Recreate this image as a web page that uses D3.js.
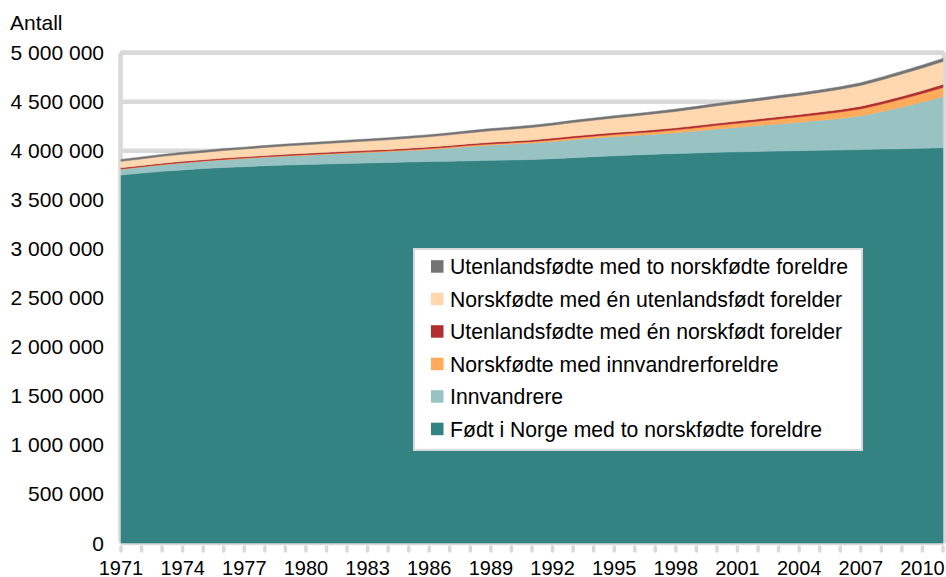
<!DOCTYPE html>
<html>
<head>
<meta charset="utf-8">
<script src="https://cdn.jsdelivr.net/npm/d3@7"></script>
<style>
  html, body { margin: 0; padding: 0; background: #fff; }
  svg { display: block; font-family: "Liberation Sans", Arial, sans-serif; }
</style>
</head>
<body>
<svg id="chart" width="946" height="577"></svg>
<script>
// values in thousands of persons, 1 January each year
var years = d3.range(1971, 2012);
var tickYears = d3.range(1971, 2011, 3);

var fodtNorge = [3752,3772,3790,3805,3818,3829,3838,3847,3854,3860,3866,3871,3876,3881,3886,3890,3894,3898,3902,3906,3911,3919,3929,3939,3949,3957,3965,3972,3978,3984,3989,3993,3997,4001,4005,4008,4012,4017,4021,4026,4031];
var innvandrere = [61,64,68,72,76,80,84,88,92,95,99,103,107,111,116,124,134,146,156,162,168,176,184,190,195,199,204,212,224,238,250,264,277,290,305,322,345,381,425,470,520];
var norskfInnvForeldre = [1,1,2,2,2,3,3,4,4,5,5,6,6,7,8,9,10,11,12,13,14,16,18,20,22,24,26,29,33,37,41,45,50,55,60,65,70,76,82,88,95];
var utlEnNorskf = [13,13,13,13,13,13,13,13,14,14,14,15,15,15,16,16,16,17,17,17,18,18,19,19,20,20,21,21,22,22,23,23,24,24,25,26,27,28,29,30,31];
var norskfEnUtl = [65,67,70,72,74,77,79,82,84,87,89,92,95,98,101,104,108,112,117,122,127,132,137,143,149,155,161,167,172,177,182,186,190,194,199,205,212,219,225,229,233];
var utlToNorskf = [20,20,20,20,20,20,20,20,20,20,21,21,21,21,21,21,21,22,22,22,22,22,23,23,23,23,24,24,24,24,25,25,25,26,26,27,28,29,30,31,32];

var seriesNames = [
  "Født i Norge med to norskfødte foreldre",
  "Innvandrere",
  "Norskfødte med innvandrerforeldre",
  "Utenlandsfødte med én norskfødt forelder",
  "Norskfødte med én utenlandsfødt forelder",
  "Utenlandsfødte med to norskfødte foreldre"
];
var seriesValues = [fodtNorge, innvandrere, norskfInnvForeldre, utlEnNorskf, norskfEnUtl, utlToNorskf];
var colors = ["#338383", "#99c2c2", "#ffab5b", "#b22f2f", "#ffd8b0", "#747474"];

var svg = d3.select("#chart");
var plotLeft = 121, plotRight = 943, plotTop = 52.7, plotBottom = 543;

var x = d3.scaleLinear().domain([1971, 2011]).range([plotLeft, plotRight]);
var y = d3.scaleLinear().domain([0, 5000]).range([plotBottom, plotTop]);

var nb = d3.formatLocale({decimal: ",", thousands: "\u00a0", grouping: [3], currency: ["", ""]});
var fmt = nb.format(",");

// table for the stack
var table = years.map(function(yr, i){
  var row = {year: yr};
  seriesValues.forEach(function(arr, k){ row["s" + k] = arr[i]; });
  return row;
});
var keys = seriesValues.map(function(d, k){ return "s" + k; });
var stacked = d3.stack().keys(keys)(table);

// gridlines
var yTicks = d3.range(0, 5001, 500);
svg.append("g").selectAll("line")
  .data(yTicks.filter(function(d){ return d > 0; }))
  .enter().append("line")
  .attr("x1", plotLeft - 1).attr("x2", plotRight + 1)
  .attr("y1", function(d){ return y(d); }).attr("y2", function(d){ return y(d); })
  .attr("stroke", "#d9d9d9").attr("stroke-width", 4.5);

// plot border
svg.append("rect")
  .attr("x", plotLeft - 0.5).attr("y", plotTop)
  .attr("width", plotRight - plotLeft + 1.5).attr("height", plotBottom - plotTop)
  .attr("rx", 3)
  .attr("fill", "none").attr("stroke", "#d9d9d9").attr("stroke-width", 4.5);

// x ticks
svg.append("g").selectAll("line")
  .data(years)
  .enter().append("line")
  .attr("x1", function(d){ return x(d); }).attr("x2", function(d){ return x(d); })
  .attr("y1", plotBottom + 4).attr("y2", plotBottom + 8)
  .attr("stroke", "#d9d9d9").attr("stroke-width", 3.5).attr("stroke-linecap", "round");

// areas
var area = d3.area()
  .x(function(d){ return x(d.data.year); })
  .y0(function(d){ return y(d[0]); })
  .y1(function(d){ return y(d[1]); });

svg.append("g").selectAll("path")
  .data(stacked)
  .enter().append("path")
  .attr("d", area)
  .attr("fill", function(d, i){ return colors[i]; })
  .attr("stroke", function(d, i){ return colors[i]; })
  .attr("stroke-width", 0.5);

// y axis labels
svg.append("g").selectAll("text")
  .data(yTicks)
  .enter().append("text")
  .attr("x", 104).attr("y", function(d){ return y(d) + 7.5; })
  .attr("text-anchor", "end")
  .attr("font-size", 21).attr("fill", "#000")
  .text(function(d){ return fmt(d * 1000); });

svg.append("text")
  .attr("x", 10).attr("y", 30)
  .attr("font-size", 21).attr("fill", "#000")
  .text("Antall");

// x axis labels
svg.append("g").selectAll("text")
  .data(tickYears)
  .enter().append("text")
  .attr("x", function(d){ return x(d); }).attr("y", 575)
  .attr("text-anchor", "middle")
  .attr("font-size", 20).attr("fill", "#000")
  .text(function(d){ return d; });

// legend
var lg = svg.append("g");
lg.append("rect")
  .attr("x", 414).attr("y", 249).attr("width", 448).attr("height", 201)
  .attr("fill", "#fff").attr("stroke", "#d9d9d9").attr("stroke-width", 2);

var order = [5, 4, 3, 2, 1, 0];
var items = lg.selectAll("g.item")
  .data(order)
  .enter().append("g")
  .attr("class", "item")
  .attr("transform", function(d, i){ return "translate(0," + (266.7 + i * 32.5) + ")"; });
items.append("rect")
  .attr("x", 431).attr("y", -6.5).attr("width", 12.5).attr("height", 12.5)
  .attr("fill", function(d){ return colors[d]; });
items.append("text")
  .attr("x", 450).attr("y", 7.5)
  .attr("font-size", 21.2).attr("fill", "#000")
  .text(function(d){ return seriesNames[d]; });
</script>
</body>
</html>
